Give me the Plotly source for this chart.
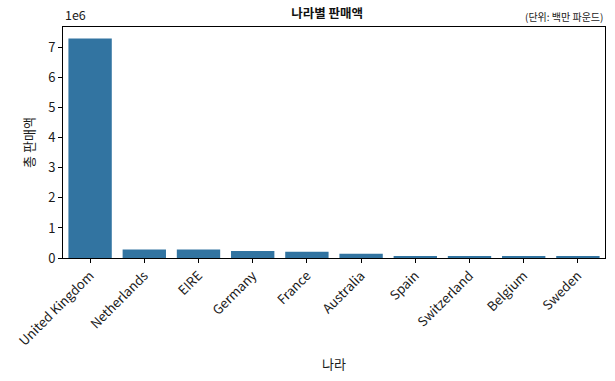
import plotly.graph_objects as go

countries = ["United Kingdom", "Netherlands", "EIRE", "Germany", "France",
             "Australia", "Spain", "Switzerland", "Belgium", "Sweden"]
sales = [7310000, 285000, 283000, 229000, 209000, 138000, 61000, 57000, 41000, 38000]
ytick_vals = [0, 1e6, 2e6, 3e6, 4e6, 5e6, 6e6, 7e6]
ytick_text = ["0", "1", "2", "3", "4", "5", "6", "7"]

FONT = "Noto Sans CJK KR"

fig = go.Figure(go.Bar(x=countries, y=sales, marker=dict(color="#3274a1", line=dict(width=0)),
                       width=0.8))

fig.update_layout(
    width=615, height=381,
    margin=dict(l=63, r=10, t=27, b=123, autoexpand=False),
    plot_bgcolor="white", paper_bgcolor="white",
    font=dict(family=FONT, size=12, color="#1a1a1a"),
    showlegend=False,
    title=dict(text="<b>나라별 판매액</b>", x=0.532, xanchor="center", y=0.963, yanchor="middle",
               font=dict(size=12.5, family=FONT, color="#111")),
    bargap=0.2,
)
fig.update_xaxes(
    range=[-0.5, 9.5], tickangle=-45, showline=True, linecolor="black", linewidth=1, mirror=True,
    ticks="outside", ticklen=4, tickcolor="black", showgrid=False, automargin=False,
    title=dict(text="나라", font=dict(size=13), standoff=11),
    tickfont=dict(size=13),
)
fig.update_yaxes(
    range=[0, 7.69e6], tickvals=ytick_vals, ticktext=ytick_text,
    showline=True, linecolor="black", linewidth=1, mirror=True, automargin=False,
    ticks="outside", ticklen=4, tickcolor="black", showgrid=False, zeroline=False,
    title=dict(text="총 판매액", font=dict(size=13), standoff=10),
    tickfont=dict(size=13),
)
fig.add_annotation(text="1e6", xref="paper", yref="paper", x=0, y=1, xanchor="left", yanchor="bottom",
                   showarrow=False, font=dict(size=12.5, family=FONT), yshift=1)
fig.add_annotation(text="(단위: 백만 파운드)", xref="paper", yref="paper", x=1, y=1, xanchor="right",
                   yanchor="bottom", showarrow=False, font=dict(size=10, family=FONT), yshift=1)

fig.write_html("out.html", config={"displayModeBar": False},
               post_script="document.body.style.margin='0';document.body.style.overflow='hidden';")
